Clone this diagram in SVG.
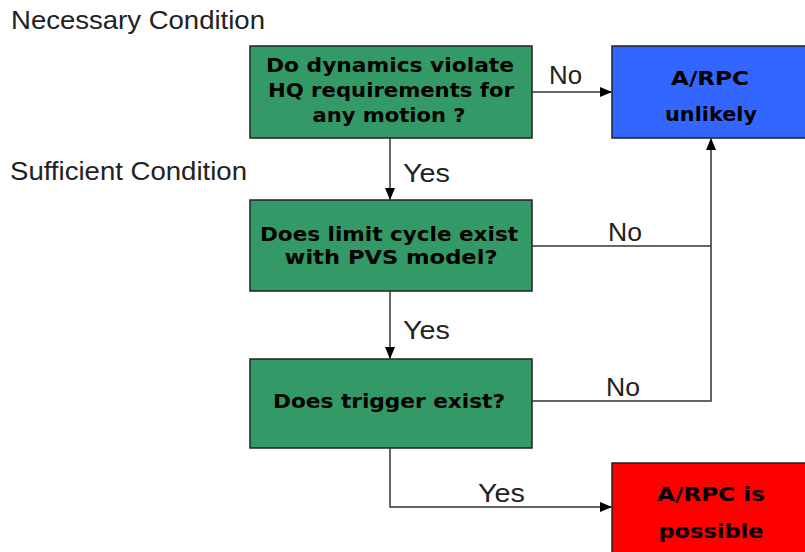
<svg xmlns="http://www.w3.org/2000/svg" width="805" height="552" viewBox="0 0 805 552">
<defs>
<marker id="ah" markerWidth="12" markerHeight="10" refX="11" refY="5" orient="auto" markerUnits="userSpaceOnUse">
<path d="M0,0 L12,5 L0,10 Z" fill="#000"/>
</marker>
<style>
.dec{fill:#339966;stroke:#222;stroke-width:1.5}
.bt{font-family:"DejaVu Sans","Liberation Sans",Arial,sans-serif;font-weight:bold;font-size:20px;fill:#000;text-anchor:middle}
.lb{font-family:"Liberation Sans",Arial,sans-serif;font-size:25px;fill:#222}
.cn{fill:none;stroke:#333;stroke-width:1.5}
</style>
</defs>
<rect width="805" height="552" fill="#fff"/>
<text class="lb" x="11" y="29" textLength="254" lengthAdjust="spacingAndGlyphs">Necessary Condition</text>
<text class="lb" x="10" y="180" textLength="237" lengthAdjust="spacingAndGlyphs">Sufficient Condition</text>
<g id="n1">
<rect class="dec" x="250" y="46" width="282" height="92"/>
<text class="bt" x="390" y="72" textLength="248" lengthAdjust="spacingAndGlyphs">Do dynamics violate</text>
<text class="bt" x="391" y="97" textLength="246" lengthAdjust="spacingAndGlyphs">HQ requirements for</text>
<text class="bt" x="389" y="122" textLength="153" lengthAdjust="spacingAndGlyphs">any motion ?</text>
</g>
<g id="n2">
<rect class="dec" x="250" y="200" width="282" height="91"/>
<text class="bt" x="389" y="241" textLength="258" lengthAdjust="spacingAndGlyphs">Does limit cycle exist</text>
<text class="bt" x="391" y="264" textLength="213" lengthAdjust="spacingAndGlyphs">with PVS model?</text>
</g>
<g id="n3">
<rect class="dec" x="250" y="359" width="282" height="89"/>
<text class="bt" x="389" y="408" textLength="232" lengthAdjust="spacingAndGlyphs">Does trigger exist?</text>
</g>
<g id="unlikely">
<rect x="612" y="46" width="200" height="92" fill="#3366ff" stroke="#222" stroke-width="1.5"/>
<text class="bt" x="710" y="85" textLength="78" lengthAdjust="spacingAndGlyphs">A/RPC</text>
<text class="bt" x="711" y="121" textLength="92" lengthAdjust="spacingAndGlyphs">unlikely</text>
</g>
<g id="possible">
<rect x="612" y="463" width="200" height="95" fill="#ff0000" stroke="#222" stroke-width="1.5"/>
<text class="bt" x="711" y="501" textLength="108" lengthAdjust="spacingAndGlyphs">A/RPC is</text>
<text class="bt" x="711" y="538" textLength="105" lengthAdjust="spacingAndGlyphs">possible</text>
</g>
<g id="connectors">
<path class="cn" d="M532,92 H611" marker-end="url(#ah)"/>
<path class="cn" d="M390,138 V199" marker-end="url(#ah)"/>
<path class="cn" d="M390,291 V358" marker-end="url(#ah)"/>
<path class="cn" d="M532,246 H711"/>
<path class="cn" d="M532,401 H711 V139" marker-end="url(#ah)"/>
<path class="cn" d="M390,448 V507 H611" marker-end="url(#ah)"/>
<text class="lb" x="549" y="84" textLength="33" lengthAdjust="spacingAndGlyphs">No</text>
<text class="lb" x="403" y="182" textLength="47" lengthAdjust="spacingAndGlyphs">Yes</text>
<text class="lb" x="608" y="241" textLength="34" lengthAdjust="spacingAndGlyphs">No</text>
<text class="lb" x="403" y="339" textLength="47" lengthAdjust="spacingAndGlyphs">Yes</text>
<text class="lb" x="606" y="396" textLength="34" lengthAdjust="spacingAndGlyphs">No</text>
<text class="lb" x="478" y="502" textLength="47" lengthAdjust="spacingAndGlyphs">Yes</text>
</g>
</svg>
